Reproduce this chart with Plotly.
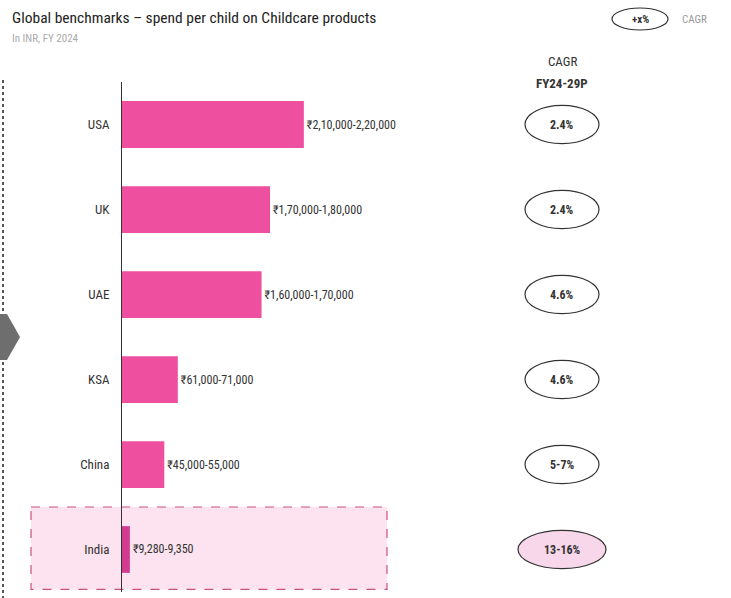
import plotly.graph_objects as go

# ---- data ----
countries = ["USA", "UK", "UAE", "KSA", "China", "India"]
spend_low = [210000, 170000, 160000, 61000, 45000, 9280]
spend_high = [220000, 180000, 170000, 71000, 55000, 9350]
spend_labels = ["₹2,10,000-2,20,000", "₹1,70,000-1,80,000", "₹1,60,000-1,70,000",
                "₹61,000-71,000", "₹45,000-55,000", "₹9,280-9,350"]
cagr_labels = ["2.4%", "2.4%", "4.6%", "4.6%", "5-7%", "13-16%"]

spend_mid = [(a + b) / 2 for a, b in zip(spend_low, spend_high)]

W, H = 731, 598
L, R, T, B = 122, 0, 82, 6
PW, PH = W - L - R, H - T - B

def px(x):
    return (x - L) / PW

def py(y):
    return 1 - (y - T) / PH

FONT = "Liberation Sans Narrow, Roboto Condensed, Arial Narrow, Liberation Sans, Arial, sans-serif"
PINK = "#EE4F9F"
INDIA_PINK = "#D23C8F"

colors = [PINK] * (len(countries) - 1) + [INDIA_PINK]

fig = go.Figure()
fig.add_trace(go.Bar(
    y=countries, x=spend_mid, orientation="h",
    marker=dict(color=colors, line=dict(width=0)),
    width=0.55,
    text=spend_labels, textposition="outside",
    textfont=dict(size=12, color="#333", family=FONT),
    cliponaxis=False, hoverinfo="skip",
))

shapes = []
annotations = []

def note(x, y, text, size, color, xanchor="center", xref="paper", yref="paper"):
    annotations.append(dict(xref=xref, yref=yref, x=x, y=y, text=text, showarrow=False,
                            xanchor=xanchor, yanchor="middle",
                            font=dict(size=size, color=color, family=FONT)))

# India highlight box
shapes.append(dict(type="rect", xref="paper", yref="y",
                   x0=px(31), x1=px(387), y0=4.5, y1=5.47,
                   fillcolor="#FCE3EF", line=dict(color="#C8507F", width=1.2, dash="dash"),
                   layer="below"))

# CAGR ovals
for i, lab in enumerate(cagr_labels):
    india = (i == len(cagr_labels) - 1)
    half_w = 44 if india else 37
    shapes.append(dict(type="circle", xref="paper", yref="y",
                       x0=px(562 - half_w), x1=px(562 + half_w),
                       y0=i - 0.225, y1=i + 0.225,
                       fillcolor="#F8D7EA" if india else "rgba(0,0,0,0)",
                       line=dict(color="#333", width=1.2)))
    note(px(562), i, f"<b>{lab}</b>", 12, "#333", yref="y")

# CAGR header
note(px(562), py(62), "CAGR", 13, "#333")
note(px(562), py(83), "<b>FY24-29P</b>", 13, "#333")

# Title & subtitle
note(px(10), py(18), "Global benchmarks – spend per child on Childcare products", 15.5, "#222", xanchor="left")
note(px(10), py(38), "In INR, FY 2024", 11, "#AAA", xanchor="left")

# Legend top right
shapes.append(dict(type="circle", xref="paper", yref="paper",
                   x0=px(612), x1=px(668), y0=py(30), y1=py(8),
                   line=dict(color="#333", width=1.2)))
note(px(640), py(19), "<b>+x%</b>", 11, "#333")
note(px(680), py(19), "CAGR", 11, "#999", xanchor="left")

# Left dotted line with chevron
shapes.append(dict(type="line", xref="paper", yref="paper", x0=px(3), x1=px(3),
                   y0=py(80), y1=py(312), line=dict(color="#555", width=2, dash="dot")))
shapes.append(dict(type="line", xref="paper", yref="paper", x0=px(3), x1=px(3),
                   y0=py(362), y1=py(598), line=dict(color="#555", width=2, dash="dot")))
pts = [(0, 314), (7, 314), (20, 337), (7, 360), (0, 360)]
path = "M " + " L ".join(f"{px(a)},{py(b)}" for a, b in pts) + " Z"
shapes.append(dict(type="path", xref="paper", yref="paper", path=path,
                   fillcolor="#6E6E6E", line=dict(width=0)))

fig.update_layout(
    width=W, height=H,
    margin=dict(l=L, r=R, t=T, b=B),
    paper_bgcolor="white", plot_bgcolor="rgba(0,0,0,0)",
    showlegend=False,
    bargap=0.45,
    font=dict(family=FONT, color="#333"),
    xaxis=dict(range=[0, 720000], visible=False, fixedrange=True),
    yaxis=dict(autorange="reversed", showline=True, linecolor="#333", linewidth=1,
               showgrid=False, zeroline=False, ticks="outside", ticklen=9,
               tickcolor="rgba(0,0,0,0)", tickfont=dict(size=13, color="#333", family=FONT),
               fixedrange=True),
    shapes=shapes, annotations=annotations,
)

fig.write_html("out.html", config={"displayModeBar": False},
               post_script="document.body.style.margin='0px';document.body.style.padding='0px';")
